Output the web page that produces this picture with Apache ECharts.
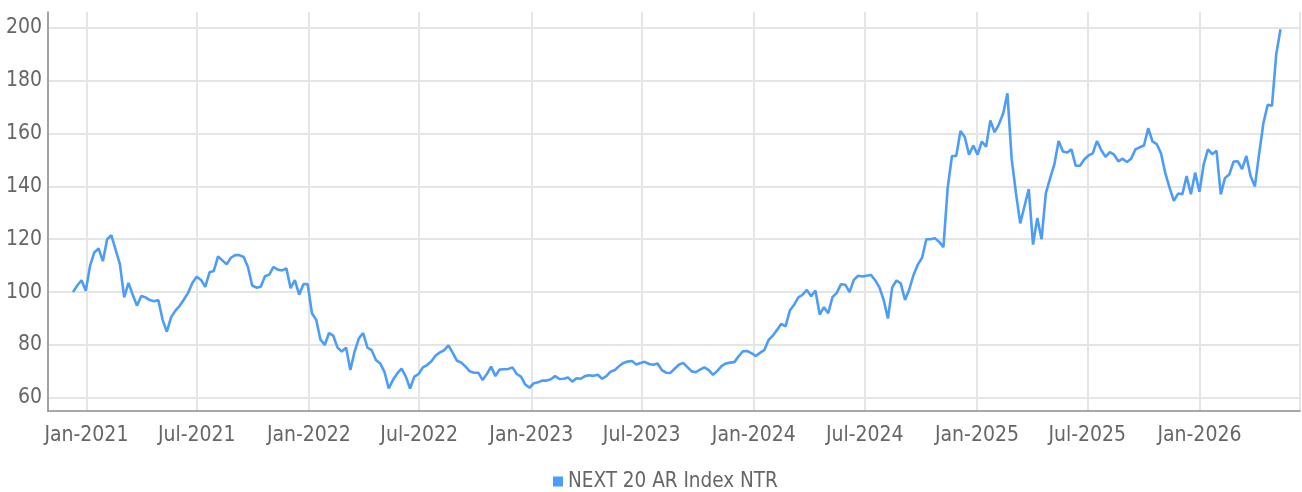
<!DOCTYPE html>
<html>
<head>
<meta charset="utf-8">
<script src="https://cdn.jsdelivr.net/npm/echarts@6/dist/echarts.min.js"></script>
<style>html,body{margin:0;padding:0;background:#fff}#c{width:1302px;height:492px}</style>
</head>
<body>
<div id="c"></div>
<script>
// ---- data (weekly readings, first reading on startDate) ----
const seriesName = 'NEXT 20 AR Index NTR';
const startDate = [2020, 11, 10];   // 10 Dec 2020
const stepDays = 7;
const valuesA = [100, 102.5, 104.5, 100.5, 110, 115, 116.5, 111.7, 120, 121.5,
  116, 110.5, 98, 103.5, 99, 94.8, 98.5, 98, 97, 96.5,
  97, 89.5, 85, 90.5, 93, 94.8, 97.2, 99.8, 103.5, 105.8,
  104.6, 102, 107.5, 108, 113.5, 112, 110.5, 113, 114, 114,
  113.3, 109.5, 102.5, 101.7];
const valuesB = [102, 106, 106.6, 109.5, 108.5, 108.2, 109, 101.5, 104.5, 99,
  103, 103, 92, 89.5, 82, 80, 84.5, 83.5, 79, 77.5,
  79, 70.5, 77.5, 82.5, 84.5, 79, 78, 74.3, 73, 69.8,
  63.5, 66.8, 69.2, 71, 68, 63.5, 68, 69, 71.5, 72.4,
  73.8, 76];
const valuesC = [77.2, 78, 79.8, 77, 74, 73.3, 71.8, 70, 69.5, 69.5,
  66.7, 69, 71.8, 68.2, 70.7, 70.8, 70.9, 71.5, 69, 68,
  65, 63.8, 65.5, 65.9, 66.5, 66.5, 67, 68.2, 67.1, 67.2,
  67.7, 66.1, 67.4, 67.2, 68.2, 68.5, 68.3, 68.7, 67.2, 68.2,
  69.9, 70.5, 72, 73.2, 73.7, 73.9, 72.6, 73.2, 73.6, 72.8,
  72.5, 73, 70.5, 69.5, 69.4, 71, 72.5, 73.2, 71.6, 70,
  69.7, 70.7, 71.5, 70.5, 68.7, 70.2, 72, 73, 73.3, 73.5,
  75.7, 77.6, 77.7, 76.9, 75.8];
const valuesD = [77, 78, 81.8, 83.5, 85.7, 88, 87, 93, 95.2, 98,
  99, 100.8, 98.4, 100.6, 91.5, 94.3, 92, 98.1, 99.7, 103,
  102.8, 100, 104.6, 106.2, 105.9, 106.2, 106.5, 104.5, 101.8, 97,
  90, 101.8, 104.4, 103.3, 97, 101, 106.5, 110.4, 113, 120,
  120, 120.4, 119];
const valuesE = [117, 139.5, 151.5, 151.5, 161, 158.7, 152, 155.5, 152, 157,
  155, 165, 160.5, 163.5, 167.6, 175.2, 150.3, 137.5, 126, 132.5,
  139, 118, 128, 120, 137.4, 143, 148.3, 157.2, 153.2, 152.8,
  154, 147.8, 147.8, 150.2, 151.7, 152.5, 157.2, 153.7, 151.2];
const valuesF = [153, 152, 149.5, 150.5, 149.2, 150.5, 154, 154.8, 155.5, 162,
  157, 156, 152.5, 145, 139.5, 134.5, 137.3, 137, 143.9, 137,
  145.2, 138, 148.3, 154, 152.2, 153.5, 137, 143.2, 144.5, 149.4,
  149.5, 146.5, 151.5, 143.8, 140, 152.5, 164, 170.9, 170.5, 190,
  199.5];
const monthNames = ['Jan','Feb','Mar','Apr','May','Jun','Jul','Aug','Sep','Oct','Nov','Dec'];
const yTickValues = [60, 80, 100, 120, 140, 160, 180, 200];

// ---- build ----
const DAY = 86400000;
const values = [].concat(valuesA, valuesB, valuesC, valuesD, valuesE, valuesF);
const t0 = Date.UTC(startDate[0], startDate[1], startDate[2]);
const seriesData = values.map((v, i) => [t0 + i * stepDays * DAY, v]);
const HALF_YEAR = DAY * 365 / 2;
const FONT = "'Liberation Sans Narrow', 'DejaVu Sans Condensed', Roboto, sans-serif";
const TXT = '#666666';
const LINE = '#4d9df8';

const chart = echarts.init(document.getElementById('c'), null, {renderer: 'canvas'});
chart.setOption({
  useUTC: true,
  animation: false,
  backgroundColor: '#fff',
  grid: {left: 48, right: 2, top: 12, bottom: 81, containLabel: false, outerBoundsMode: 'none'},
  legend: {
    data: [seriesName], top: 471, left: 553, padding: 0,
    icon: 'rect', itemWidth: 10, itemHeight: 10,
    textStyle: {color: TXT, fontSize: 20.5, fontFamily: FONT}
  },
  xAxis: {
    type: 'time',
    min: Date.UTC(2020, 9, 30),
    max: Date.UTC(2026, 5, 15),
    minInterval: HALF_YEAR, maxInterval: HALF_YEAR,
    axisLine: {show: true, lineStyle: {color: '#8c8c8c', width: 1.5}},
    axisTick: {show: false},
    axisLabel: {
      color: TXT, fontSize: 21, fontFamily: FONT, margin: 14, hideOverlap: false,
      formatter: (val) => { const d = new Date(val); return monthNames[d.getUTCMonth()] + '-' + d.getUTCFullYear(); }
    },
    splitLine: {show: true, lineStyle: {color: '#e5e5e5', width: 2}}
  },
  yAxis: {
    type: 'value', min: 55, max: 206, splitNumber: 7,
    axisLine: {show: true, lineStyle: {color: '#8c8c8c', width: 1.5}},
    axisTick: {show: false},
    axisLabel: {
      color: TXT, fontSize: 21, fontFamily: FONT, margin: 6, padding: [9, 0, 0, 0],
      showMinLabel: false, showMaxLabel: false,
      formatter: (v) => yTickValues.indexOf(v) >= 0 ? String(v) : ''
    },
    splitLine: {show: true, showMinLine: false, showMaxLine: false, lineStyle: {color: '#e5e5e5', width: 2}}
  },
  series: [{
    name: seriesName, type: 'line', data: seriesData,
    showSymbol: false, symbol: 'none',
    lineStyle: {color: LINE, width: 2.6},
    itemStyle: {color: LINE}
  }]
});
</script>
</body>
</html>
